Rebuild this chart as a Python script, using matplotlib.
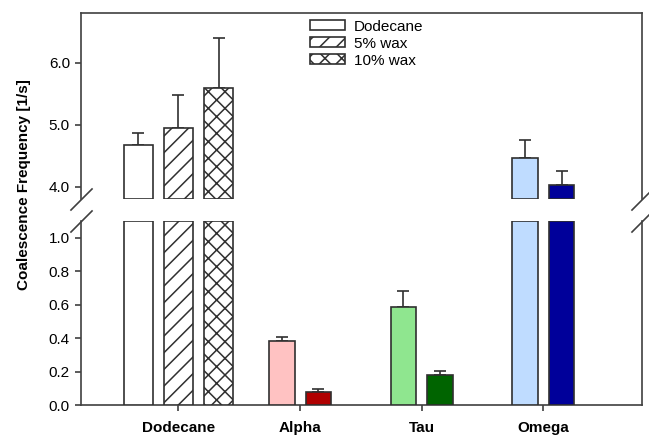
import numpy as np
import matplotlib
matplotlib.use('Agg')
import matplotlib.pyplot as plt
from matplotlib.ticker import FormatStrFormatter

plt.rcParams['font.family'] = ['Liberation Sans', 'DejaVu Sans']
plt.rcParams['font.size'] = 11
plt.rcParams['hatch.linewidth'] = 1.1

# Coalescence frequencies [1/s] with upper error
groups = ['Dodecane', 'Alpha', 'Tau', 'Omega']
wax_labels = ['Dodecane', '5% wax', '10% wax']
wax_hatches = ['', '//', 'xx']
dodecane_mean = [4.67, 4.95, 5.59]
dodecane_err = [0.19, 0.52, 0.81]

# Alpha, Tau, Omega: light and dark bar of each pair
pair_groups = ['Alpha', 'Tau', 'Omega']
light_mean = [0.383, 0.587, 4.46]
light_err = [0.025, 0.092, 0.29]
dark_mean = [0.079, 0.180, 4.03]
dark_err = [0.018, 0.024, 0.22]
light_colors = ['#FFC2C2', '#8FE68F', '#BFDCFF']
dark_colors = ['#B00000', '#006400', '#00009A']

edge = '#303030'
spine_col = '#404040'
lw = 1.2

fig = plt.figure(figsize=(6.49, 4.37), dpi=100)
ax_top = fig.add_axes([0.1248, 0.5446, 0.8644, 0.4256])
ax_bot = fig.add_axes([0.1248, 0.0725, 0.8644, 0.4224])
ax_top.set_ylim(3.8, 6.8)
ax_bot.set_ylim(0, 1.1)

xpos = np.arange(len(groups))
dod_off = [-0.33, 0.0, 0.33]
pair_x = np.array([groups.index(g) for g in pair_groups], dtype=float)


def draw_bars(ax):
    # bars are cut at the axis break, closed on both sides of the gap
    lo, hi = ax.get_ylim()

    def span(vals):
        vals = np.atleast_1d(np.asarray(vals, dtype=float))
        bottom = np.where(vals > lo, max(lo, 0.0), 0.0)
        top = np.minimum(vals, hi)
        return bottom, np.where(vals > lo, top - bottom, 0.0)

    handles = []
    for i in range(3):
        bot, h = span(dodecane_mean[i])
        b = ax.bar(xpos[0] + dod_off[i], h, 0.24, bottom=bot,
                   color='white', edgecolor=edge, linewidth=lw,
                   hatch=wax_hatches[i], label=wax_labels[i], zorder=3)
        ax.errorbar(xpos[0] + dod_off[i], dodecane_mean[i],
                    yerr=[[0], [dodecane_err[i]]], fmt='none', ecolor=edge,
                    elinewidth=lw, capsize=4.3, capthick=lw, zorder=2)
        handles.append(b)
    bot, h = span(light_mean)
    ax.bar(pair_x - 0.15, h, 0.21, bottom=bot, color=light_colors,
           edgecolor=edge, linewidth=lw, zorder=3)
    bot, h = span(dark_mean)
    ax.bar(pair_x + 0.15, h, 0.21, bottom=bot, color=dark_colors,
           edgecolor=edge, linewidth=lw, zorder=3)
    ax.errorbar(pair_x - 0.15, light_mean, yerr=[np.zeros(3), light_err],
                fmt='none', ecolor=edge, elinewidth=lw, capsize=4.3,
                capthick=lw, zorder=2)
    ax.errorbar(pair_x + 0.15, dark_mean, yerr=[np.zeros(3), dark_err],
                fmt='none', ecolor=edge, elinewidth=lw, capsize=4.3,
                capthick=lw, zorder=2)
    ax.set_xlim(-0.8, 3.81)
    for s in ax.spines.values():
        s.set_color(spine_col)
        s.set_linewidth(lw)
    ax.tick_params(axis='y', direction='out', length=4, width=lw,
                   color=spine_col, pad=4, labelsize=11)
    ax.yaxis.set_major_formatter(FormatStrFormatter('%.1f'))
    return handles


handles = draw_bars(ax_top)
draw_bars(ax_bot)

ax_top.set_ylim(3.8, 6.8)
ax_top.set_yticks([4.0, 5.0, 6.0])
ax_top.spines['bottom'].set_visible(False)
ax_top.tick_params(axis='x', bottom=False, labelbottom=False)

ax_bot.set_ylim(0, 1.1)
ax_bot.set_yticks(np.arange(0, 1.01, 0.2))
ax_bot.spines['top'].set_visible(False)
ax_bot.set_xticks(xpos)
ax_bot.set_xticklabels(groups, fontweight='bold', fontsize=11)
ax_bot.tick_params(axis='x', direction='out', length=4, width=lw,
                   color=spine_col, pad=7)

# break marks on both sides of the gap
brk = dict(marker=[(-1, -1), (1, 1)], markersize=16, linestyle='none',
           color=spine_col, mec=spine_col, mew=lw, clip_on=False)
ax_top.plot([0, 1], [0, 0], transform=ax_top.transAxes, **brk)
ax_bot.plot([0, 1], [1, 1], transform=ax_bot.transAxes, **brk)

ax_top.legend(handles=handles, labels=wax_labels, loc='upper left',
              bbox_to_anchor=(0.408, 0.965), frameon=False, borderpad=0,
              borderaxespad=0, handlelength=2.3, handleheight=0.65,
              handletextpad=0.6, labelspacing=0.2, fontsize=11)

fig.text(0.037, 0.577, 'Coalescence Frequency [1/s]', rotation=90,
         ha='center', va='center', fontweight='bold', fontsize=11)

fig.savefig('out.png', dpi=100)
